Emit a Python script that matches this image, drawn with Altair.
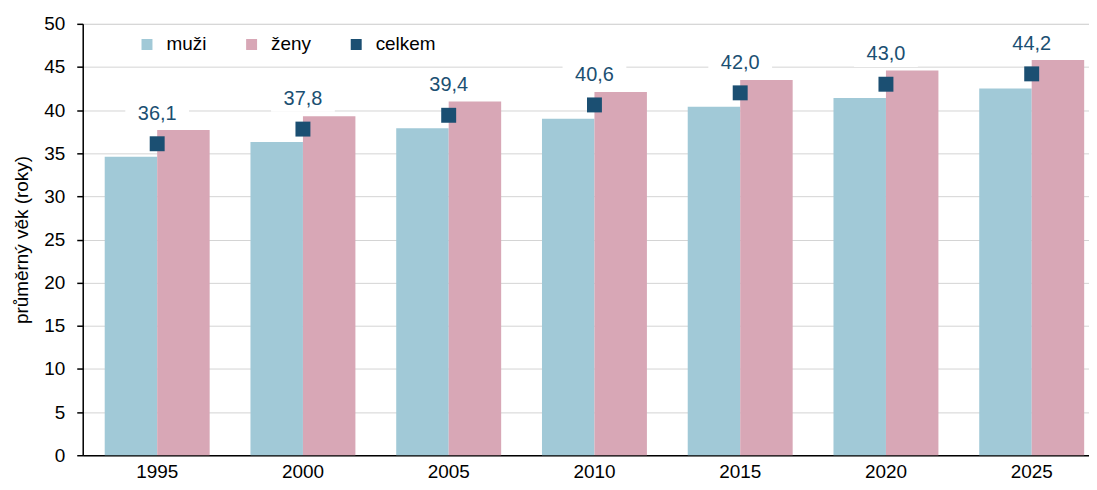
import altair as alt
import pandas as pd

years = ["1995", "2000", "2005", "2010", "2015", "2020", "2025"]
muzi = [34.6, 36.3, 37.9, 39.0, 40.4, 41.4, 42.5]
zeny = [37.7, 39.3, 41.0, 42.1, 43.5, 44.6, 45.8]
celkem = [36.1, 37.8, 39.4, 40.6, 42.0, 43.0, 44.2]
celkem_labels = ["36,1", "37,8", "39,4", "40,6", "42,0", "43,0", "44,2"]
series = ["muži", "ženy", "celkem"]
colors = ["#a1c9d7", "#d8a7b6", "#1b4f72"]
y_ticks = [0, 5, 10, 15, 20, 25, 30, 35, 40, 45, 50]

FONT = "Liberation Sans"

bars_df = pd.DataFrame({
    "rok": years * 2,
    "pohlavi": ["muži"] * len(years) + ["ženy"] * len(years),
    "vek": muzi + zeny,
})
tot_df = pd.DataFrame({
    "rok": years,
    "pohlavi": ["celkem"] * len(years),
    "vek": celkem,
    "label": celkem_labels,
})

color = alt.Color(
    "pohlavi:N",
    scale=alt.Scale(domain=series, range=colors),
    legend=alt.Legend(
        title=None, orient="none", legendX=55, legendY=11,
        direction="horizontal", symbolType="square", symbolSize=121,
        symbolStrokeWidth=0, labelFontSize=19, labelFont=FONT,
        labelColor="black", columnPadding=35, labelOffset=10,
    ),
)

x = alt.X(
    "rok:N",
    sort=years,
    scale=alt.Scale(paddingInner=0.28, paddingOuter=0.092, align=0.82),
    axis=alt.Axis(
        title=None, labelAngle=0, ticks=False, domainColor="black",
        domainWidth=1.5, labelFontSize=19, labelFont=FONT,
        labelColor="black", labelPadding=7, grid=False,
    ),
)
y = alt.Y(
    "vek:Q",
    scale=alt.Scale(domain=[0, 50], nice=False),
    axis=alt.Axis(
        values=y_ticks, title="průměrný věk (roky)", titleFontSize=19,
        titleFont=FONT, titleFontWeight="normal", titleColor="black",
        titlePadding=12, labelFontSize=19, labelFont=FONT,
        labelColor="black", labelPadding=12, tickSize=6, tickColor="black",
        tickWidth=1.5, domainColor="black", domainWidth=1.5,
        grid=True, gridColor="#d4d4d4", gridWidth=1,
    ),
)

bars = alt.Chart(bars_df).mark_bar().encode(
    x=x, y=y, xOffset=alt.XOffset("pohlavi:N", sort=["muži", "ženy"]),
    color=color,
)

boxes = alt.Chart(tot_df).mark_point(
    shape="M-1,-1.34L1,-1.34L1,-0.54L-1,-0.54Z", filled=True,
    color="white", size=4096, opacity=1, strokeWidth=0,
).encode(x=x, y=y)

points = alt.Chart(tot_df).mark_point(
    shape="square", filled=True, size=225, opacity=1, strokeWidth=0,
).encode(x=x, y=y, color=color)

labels = alt.Chart(tot_df).mark_text(
    dy=-30, baseline="middle", align="center", fontSize=20, font=FONT,
    color="#1b4f72",
).encode(x=x, y=y, text="label:N")

chart = alt.layer(bars, boxes, points, labels).properties(
    width=1010, height=433,
    autosize=alt.AutoSizeParams(type="none"),
    padding={"left": 75, "top": 15, "right": 0, "bottom": 30},
).configure_view(stroke=None).configure(font=FONT)

chart.save("out.html", embed_options={"renderer": "svg", "actions": False})
